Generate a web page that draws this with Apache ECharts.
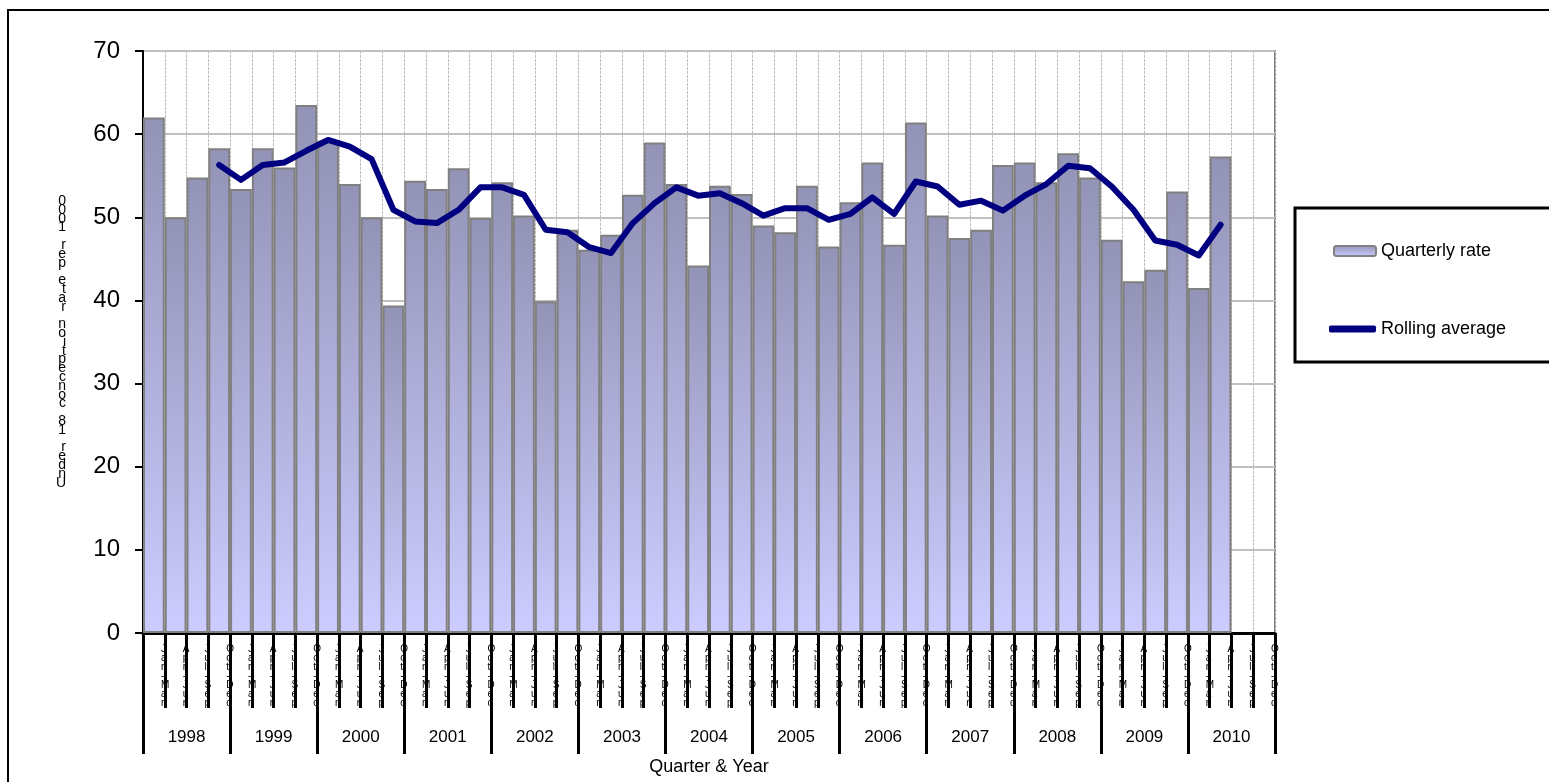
<!DOCTYPE html>
<html>
  <head>
    <meta charset="utf-8">
    <title></title>
    <style>
      html, body{ margin:0; padding:0; background:#fff; }
      #wrap{ width:1549px; height:782px; }
    </style>
    <script src="https://cdn.jsdelivr.net/npm/echarts@6/dist/echarts.min.js"></script>
  </head>
  <body>
    <div id="wrap"></div>
    <script>
      // quarters and years on the two-level x axis
      var years = ['1998','1999','2000','2001','2002','2003','2004','2005','2006','2007','2008','2009','2010'];
      var quarterNames = ['Jan-Mar','Apr-Jun','Jul-Sep','Oct-Dec'];

      // quarterly rate, 1998 Q1 .. 2010 Q2 (2010 Q3/Q4 empty)
      var rate = [62.0,50.0,54.8,58.3, 53.4,58.3,56.0,63.5, 59.2,54.0,50.0,39.4,
                  54.4,53.4,55.9,49.9, 54.2,50.2,39.9,48.5, 46.1,47.9,52.7,59.0,
                  54.0,44.2,53.8,52.8, 49.0,48.2,53.8,46.5, 51.8,56.6,46.7,61.4,
                  50.2,47.5,48.5,56.3, 56.6,54.2,57.7,54.8, 47.3,42.3,43.7,53.1,
                  41.5,57.3,null,null];

      // rolling average (starts 1998 Q4)
      var rolling = [null,null,null,56.3, 54.5,56.3,56.6,58.0, 59.3,58.5,57.0,50.9,
                     49.5,49.3,50.9,53.6, 53.6,52.7,48.5,48.2, 46.4,45.7,49.3,51.7,
                     53.6,52.6,52.9,51.7, 50.2,51.1,51.1,49.7, 50.4,52.4,50.4,54.3,
                     53.7,51.5,52.0,50.8, 52.6,54.0,56.2,55.9, 53.7,50.9,47.2,46.7,
                     45.4,49.1,null,null];

      var yName = 'Under 18 conception rate per 1000';

      var quarters = [];
      for(var i=0;i<years.length;i++){
        for(var j=0;j<quarterNames.length;j++){
          quarters.push(quarterNames[j]);
        }
      }

      var font = 'Liberation Sans, Arial, sans-serif';
      var chart = echarts.init(document.getElementById('wrap'));

      var option = {
        animation: false,
        textStyle: {fontFamily: font},
        grid: {
          left: 143, top: 51, width: 1132, height: 582,
          show: true, borderColor: '#808080', borderWidth: 2,
          containLabel: false
        },
        graphic: [
          {type:'rect', shape:{x:8, y:10, width:1600, height:850},
           style:{fill:'none', stroke:'#000', lineWidth:2}, silent:true},
          {type:'rect', shape:{x:1295, y:208, width:300, height:154},
           style:{fill:'#fff', stroke:'#000', lineWidth:3}, silent:true, z:-1}
        ],
        legend: [
          {
            data: ['Quarterly rate'],
            left: 1333, top: 242, padding: 0,
            itemWidth: 42, itemHeight: 10, itemGap: 5,
            selectedMode: false,
            textStyle: {fontSize: 18, color: '#000', fontFamily: font}
          },
          {
            data: [{name:'Rolling average', icon:'roundRect'}],
            left: 1329, top: 320, padding: 0,
            itemWidth: 47, itemHeight: 7,
            selectedMode: false,
            textStyle: {fontSize: 18, color: '#000', fontFamily: font}
          }
        ],
        xAxis: [
          {
            type: 'category',
            data: quarters,
            position: 'bottom',
            axisLine: {lineStyle: {color: '#000', width: 3}},
            axisTick: {show: true, interval: 0, length: 75, lineStyle: {color:'#000', width: 3}},
            axisLabel: {
              interval: 0, margin: 12, fontSize: 10, lineHeight: 9, color: '#000',
              align: 'left', padding: [0,0,0,7],
              formatter: function (v){ return v.split('').join('\n'); }
            },
            splitLine: {show: true, interval: 0, lineStyle: {color:'#bdbdbd', width:1, type:[3,1]}}
          },
          {
            type: 'category',
            data: years,
            position: 'bottom',
            axisLine: {show: false},
            axisTick: {show: true, interval: 0, length: 121, lineStyle: {color:'#000', width: 3}},
            axisLabel: {interval: 0, margin: 96, fontSize: 17, color: '#000'},
            splitLine: {show: false},
            name: 'Quarter & Year',
            nameLocation: 'middle',
            nameGap: 125,
            nameTextStyle: {fontSize: 18, color: '#000'}
          }
        ],
        yAxis: {
          type: 'value',
          min: 0, max: 70, interval: 10,
          axisLine: {show: true, lineStyle: {color:'#000', width: 2}},
          axisTick: {show: true, length: 8, lineStyle: {color:'#000', width: 2}},
          axisLabel: {fontSize: 24, color: '#000', margin: 23},
          splitLine: {show: true, lineStyle: {color:'#c0c0c0', width: 2}},
          name: yName.split('').reverse().join('\n'),
          nameLocation: 'middle',
          nameRotate: 0,
          nameGap: 77,
          nameTextStyle: {fontSize: 14, lineHeight: 8.8, color: '#000'}
        },
        series: [
          {
            name: 'Quarterly rate',
            type: 'bar',
            data: rate,
            barCategoryGap: '0%',
            itemStyle: {
              color: new echarts.graphic.LinearGradient(0,0,0,1,[
                {offset:0, color:'#9393b7'},
                {offset:1, color:'#ccccff'}
              ]),
              borderColor: '#808080',
              borderWidth: 2
            }
          },
          {
            name: 'Rolling average',
            type: 'line',
            data: rolling,
            symbol: 'none',
            z: 5,
            itemStyle: {color: '#000080'},
            lineStyle: {color: '#000080', width: 6, cap: 'round', join: 'round'}
          }
        ]
      };
      chart.setOption(option);
    </script>
  </body>
</html>
